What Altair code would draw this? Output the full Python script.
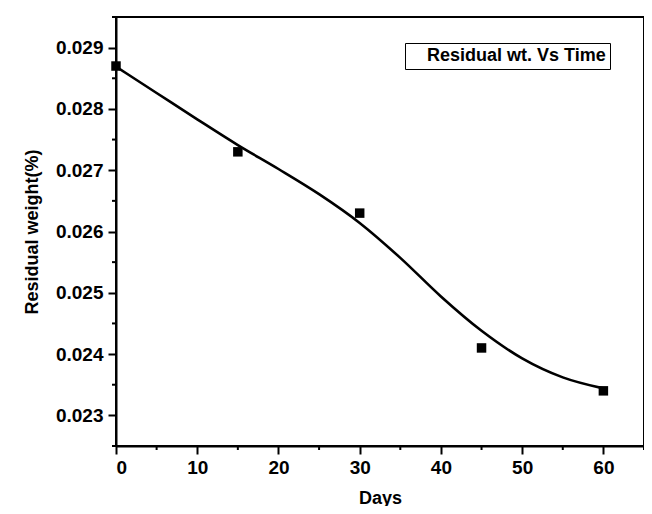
import altair as alt
import pandas as pd

# measured points
days = [0, 15, 30, 45, 60]
residual = [0.0287, 0.0273, 0.0263, 0.0241, 0.0234]

# fitted curve
curve_days = [0, 5, 10, 15, 20, 25, 30, 35, 40, 45, 50, 55, 60]
curve_vals = [0.02869, 0.02826, 0.02783, 0.02741, 0.02702, 0.02661, 0.02614,
              0.02557, 0.02494, 0.02438, 0.02393, 0.02362, 0.02344]

series_name = ["Residual wt. Vs Time"]

y_ticks = [0.023, 0.024, 0.025, 0.026, 0.027, 0.028, 0.029]
y_minor = [0.0225, 0.0235, 0.0245, 0.0255, 0.0265, 0.0275, 0.0285, 0.0295]
x_ticks = [0, 10, 20, 30, 40, 50, 60]
x_minor = [5, 15, 25, 35, 45, 55, 65]

FONT = "Liberation Sans"
W, H = 528, 429

pts = pd.DataFrame({"Days": days, "Residual": residual})
crv = pd.DataFrame({"Days": curve_days, "Residual": curve_vals,
                    "series": series_name * len(curve_days)})
ymin = pd.DataFrame({"v": y_minor})
xmin = pd.DataFrame({"v": x_minor})

xs = alt.Scale(domain=[0, 65], nice=False, zero=False)
ys = alt.Scale(domain=[0.0225, 0.0295], nice=False, zero=False)

xaxis = alt.Axis(values=x_ticks, format="d", title="Days")
yaxis = alt.Axis(values=y_ticks, format=".3f", title="Residual weight(%)")

line = alt.Chart(crv).mark_line(strokeWidth=2.6, interpolate="monotone").encode(
    x=alt.X("Days:Q", scale=xs, axis=xaxis),
    y=alt.Y("Residual:Q", scale=ys, axis=yaxis),
    color=alt.Color("series:N", scale=alt.Scale(domain=series_name, range=["black"]),
                    legend=alt.Legend(title=None, orient="none", legendX=289, legendY=26,
                                      strokeColor="black", fillColor="white",
                                      padding=4, symbolSize=0, symbolStrokeWidth=0,
                                      symbolOpacity=0, labelOffset=0, labelLimit=400,
                                      labelFont=FONT, labelFontSize=18,
                                      labelFontWeight="bold", labelColor="black")),
)

points = alt.Chart(pts).mark_point(shape="square", filled=True, size=90,
                                    color="black", opacity=1).encode(
    x=alt.X("Days:Q", scale=xs),
    y=alt.Y("Residual:Q", scale=ys),
)

yminor = alt.Chart(ymin).mark_rule(color="black", strokeWidth=2).encode(
    y=alt.Y("v:Q", scale=ys),
    x=alt.value(-4), x2=alt.value(0),
)
xminor = alt.Chart(xmin).mark_rule(color="black", strokeWidth=2).encode(
    x=alt.X("v:Q", scale=xs),
    y=alt.value(H), y2=alt.value(H + 4),
)

chart = alt.layer(line, points, yminor, xminor).properties(
    width=W, height=H,
    background="white",
    autosize=alt.AutoSizeParams(type="none"),
    padding={"left": 108, "top": 9, "right": 0, "bottom": 60},
).configure_view(
    stroke="black", strokeWidth=2
).configure_axis(
    labelFont=FONT, labelFontSize=19, labelFontWeight="bold", labelColor="black",
    titleFont=FONT, titleFontSize=18, titleFontWeight="bold", titleColor="black",
    domainColor="black", domainWidth=2, tickColor="black", tickWidth=2,
    tickSize=8, grid=False,
).configure_axisY(
    labelPadding=5, titlePadding=14
).configure_axisX(
    labelPadding=4, titlePadding=12
)

chart.save("out.html", embed_options={"renderer": "svg", "actions": False})
